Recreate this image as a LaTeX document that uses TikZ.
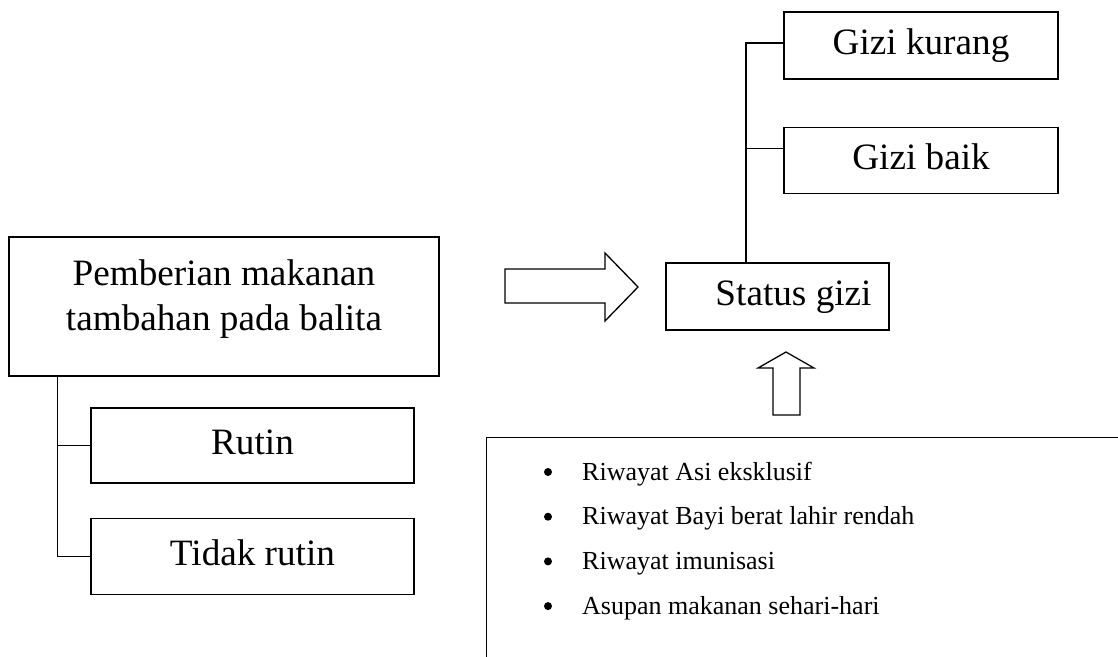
\documentclass[tikz,border=0pt]{standalone}
\usepackage{fontspec}
\setmainfont{Liberation Serif}
\usetikzlibrary{positioning}

\begin{document}
\begin{tikzpicture}[
        x=1pt, y=-1pt,
        every node/.style={inner sep=0pt},
        kotak/.style={draw, line width=1.3pt, text height=26pt, text depth=8.2pt,
                font=\fontsize{37.2}{45}\selectfont},
        garis/.style={line width=1.3pt},
        butir/.style={anchor=base west, font=\fontsize{26}{30}\selectfont}
        ]
        \useasboundingbox (0,0) rectangle (1118,656);

        % kiri
        \node[kotak, minimum width=430pt, minimum height=139pt] (pmt) at (224,306.5) {};
        \node[anchor=north, align=center, font=\fontsize{37.2}{45}\selectfont] (pmtteks) at (224,259.6)
                {Pemberian makanan\\tambahan pada balita};
        \node[kotak, minimum width=323pt, minimum height=75pt] (rutin) at (252.5,445.5) {Rutin};
        \node[kotak, minimum width=323pt, minimum height=76pt, below=34pt of rutin] (tidak) {Tidak rutin};
        \draw[garis] ([xshift=49pt]pmt.south west) |- (rutin.west);
        \draw[garis] ([xshift=49pt]pmt.south west) |- (tidak.west);

        % kanan
        \node[kotak, minimum width=223pt, minimum height=67pt] (status) at (777.5,296.5) {\hspace*{32pt}Status gizi};
        \node[kotak, minimum width=274pt, minimum height=67pt] (kurang) at (921,45.5) {Gizi kurang};
        \node[kotak, minimum width=274pt, minimum height=66pt, below=47pt of kurang] (baik) {Gizi baik};
        \draw[garis] ([xshift=-31.5pt]status.north) |- ([yshift=2.5pt]kurang.west);
        \draw[garis] ([xshift=-31.5pt]status.north) |- ([yshift=12pt]baik.west);

        % panah
        \draw[garis] (505,269) -- (605,269) -- (605,253) -- (638,287) -- (605,321) -- (605,303) -- (505,303) -- cycle;
        \draw[garis] (773,415) -- (773,368) -- (758,368) -- (786,352) -- (814,368) -- (800,368) -- (800,415) -- cycle;

        % faktor lain
        \begin{scope}
        \clip (0,0) rectangle (1118,656);
        \node[draw, line width=1.3pt, anchor=north west, minimum width=700pt, minimum height=300pt] (faktor) at (486,437) {};
        \end{scope}
        \node[butir] (f1) at (543,480) {\hspace*{39pt}Riwayat Asi eksklusif};
        \node[butir] (f2) at (543,524.7) {\hspace*{39pt}Riwayat Bayi berat lahir rendah};
        \node[butir] (f3) at (543,569.4) {\hspace*{39pt}Riwayat imunisasi};
        \node[butir] (f4) at (543,614.1) {\hspace*{39pt}Asupan makanan sehari-hari};
        \fill (f1.base west) ++(5,-8) circle (4pt);
        \fill (f2.base west) ++(5,-8) circle (4pt);
        \fill (f3.base west) ++(5,-8) circle (4pt);
        \fill (f4.base west) ++(5,-8) circle (4pt);
\end{tikzpicture}
\end{document}
